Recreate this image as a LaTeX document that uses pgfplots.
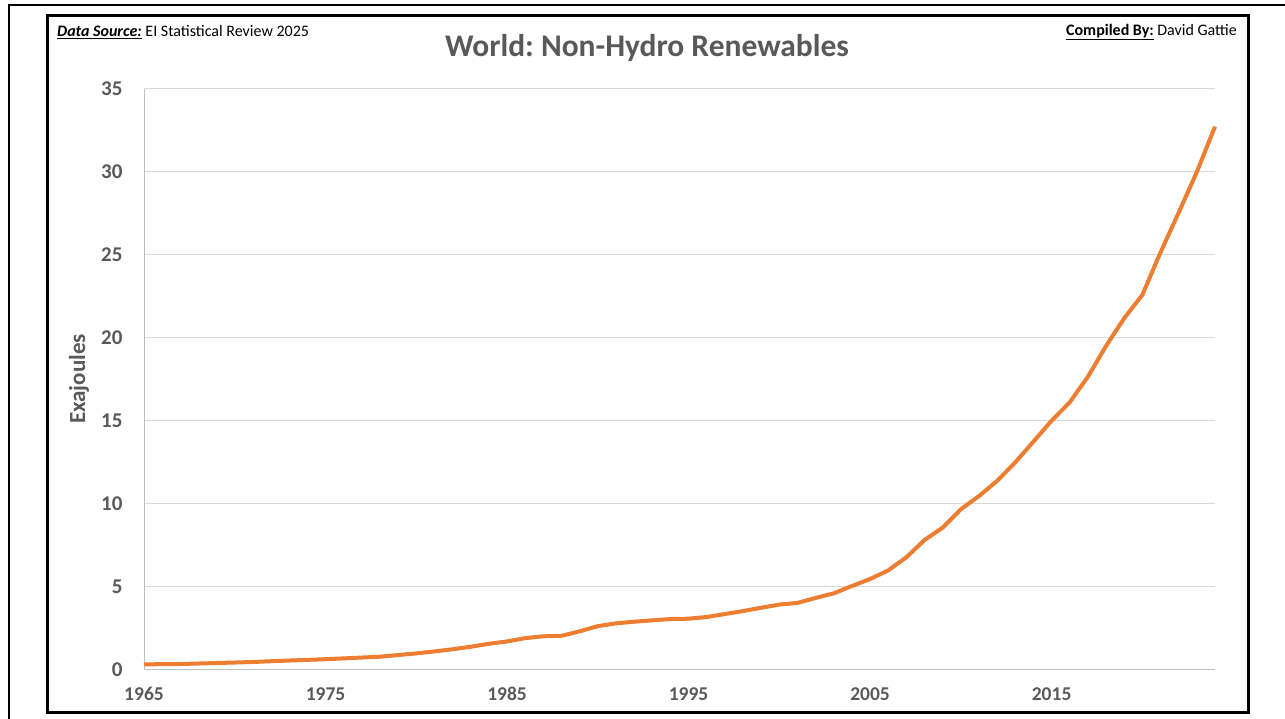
\documentclass[border=0pt]{standalone}
\usepackage{pgfplots}
\pgfplotsset{compat=1.18}
\usepackage{fontspec}
\setmainfont{Carlito}
\frenchspacing
\definecolor{txtgray}{HTML}{595959}
\definecolor{lineorange}{HTML}{ED7D31}
\definecolor{gridgray}{HTML}{D9D9D9}
\definecolor{axisgray}{HTML}{BFBFBF}
\begin{document}
\begin{tikzpicture}
\useasboundingbox (0pt,0pt) rectangle (1285pt,719pt);
% outer frame (partially visible)
\draw[line width=2.5pt,black] (9pt,-5pt) -- (9pt,714pt) -- (1295pt,714pt);
% inner frame
\draw[line width=3pt,black] (47pt,6pt) rectangle (1248pt,703pt);
\begin{axis}[
  at={(144pt,49pt)}, anchor=south west,
  scale only axis, width=1071pt, height=581pt,
  xmin=1965, xmax=2024, ymin=0, ymax=35,
  xtick={1965,1975,1985,1995,2005,2015},
  ytick={0,5,10,15,20,25,30,35},
  xticklabel style={font=\fontsize{19.5}{19.5}\selectfont\bfseries, text=txtgray},
  yticklabel style={font=\fontsize{21}{21}\selectfont\bfseries, text=txtgray},
  /pgf/number format/assume math mode=true,
  /pgf/number format/1000 sep={},
  xticklabel shift=14pt, yticklabel shift=18pt,
  tick style={draw=none},
  ymajorgrids, grid style={gridgray, line width=1pt},
  axis line style={draw=none},
  axis x line*=bottom, axis y line*=left,
  clip=false,
]
\draw[axisgray, line width=1pt] (axis cs:1965,0) -- (axis cs:2024,0);
\draw[axisgray, line width=1pt] (axis cs:1965,0) -- (axis cs:1965,35);
\addplot[lineorange, line width=4pt, line join=round] coordinates {
(1965,0.34) (1966,0.35) (1967,0.36) (1968,0.39) (1969,0.42) (1970,0.45)
(1971,0.48) (1972,0.53) (1973,0.57) (1974,0.61) (1975,0.65) (1976,0.70)
(1977,0.75) (1978,0.80) (1979,0.90) (1980,1.00) (1981,1.12) (1982,1.25)
(1983,1.40) (1984,1.58) (1985,1.72) (1986,1.92) (1987,2.03) (1988,2.06)
(1989,2.33) (1990,2.64) (1991,2.81) (1992,2.91) (1993,2.99) (1994,3.07)
(1995,3.09) (1996,3.19) (1997,3.37) (1998,3.55) (1999,3.75) (2000,3.94)
(2001,4.04) (2002,4.34) (2003,4.62) (2004,5.06) (2005,5.48) (2006,6.00)
(2007,6.79) (2008,7.83) (2009,8.58) (2010,9.68) (2011,10.48) (2012,11.39)
(2013,12.51) (2014,13.76) (2015,15.02) (2016,16.13) (2017,17.67) (2018,19.52)
(2019,21.19) (2020,22.60) (2021,25.16) (2022,27.55) (2023,30.00) (2024,32.73)
};
\end{axis}
\node[rotate=90, anchor=center, text=txtgray, font=\fontsize{23}{23}\selectfont\bfseries] at (79pt,340pt) {Exajoules};
\node[anchor=center, text=txtgray, font=\fontsize{31.5}{31.5}\selectfont\bfseries] at (647pt,671pt) {World: Non-Hydro Renewables};
\node[anchor=west, font=\fontsize{16}{16}\selectfont, inner sep=0pt] at (57pt,687pt) {\textbf{\textit{\underline{Data Source:}}} EI Statistical Review 2025};
\node[anchor=east, font=\fontsize{16}{16}\selectfont, inner sep=0pt] at (1237pt,687pt) {\textbf{\underline{Compiled By:}} David Gattie};
\end{tikzpicture}
\end{document}
